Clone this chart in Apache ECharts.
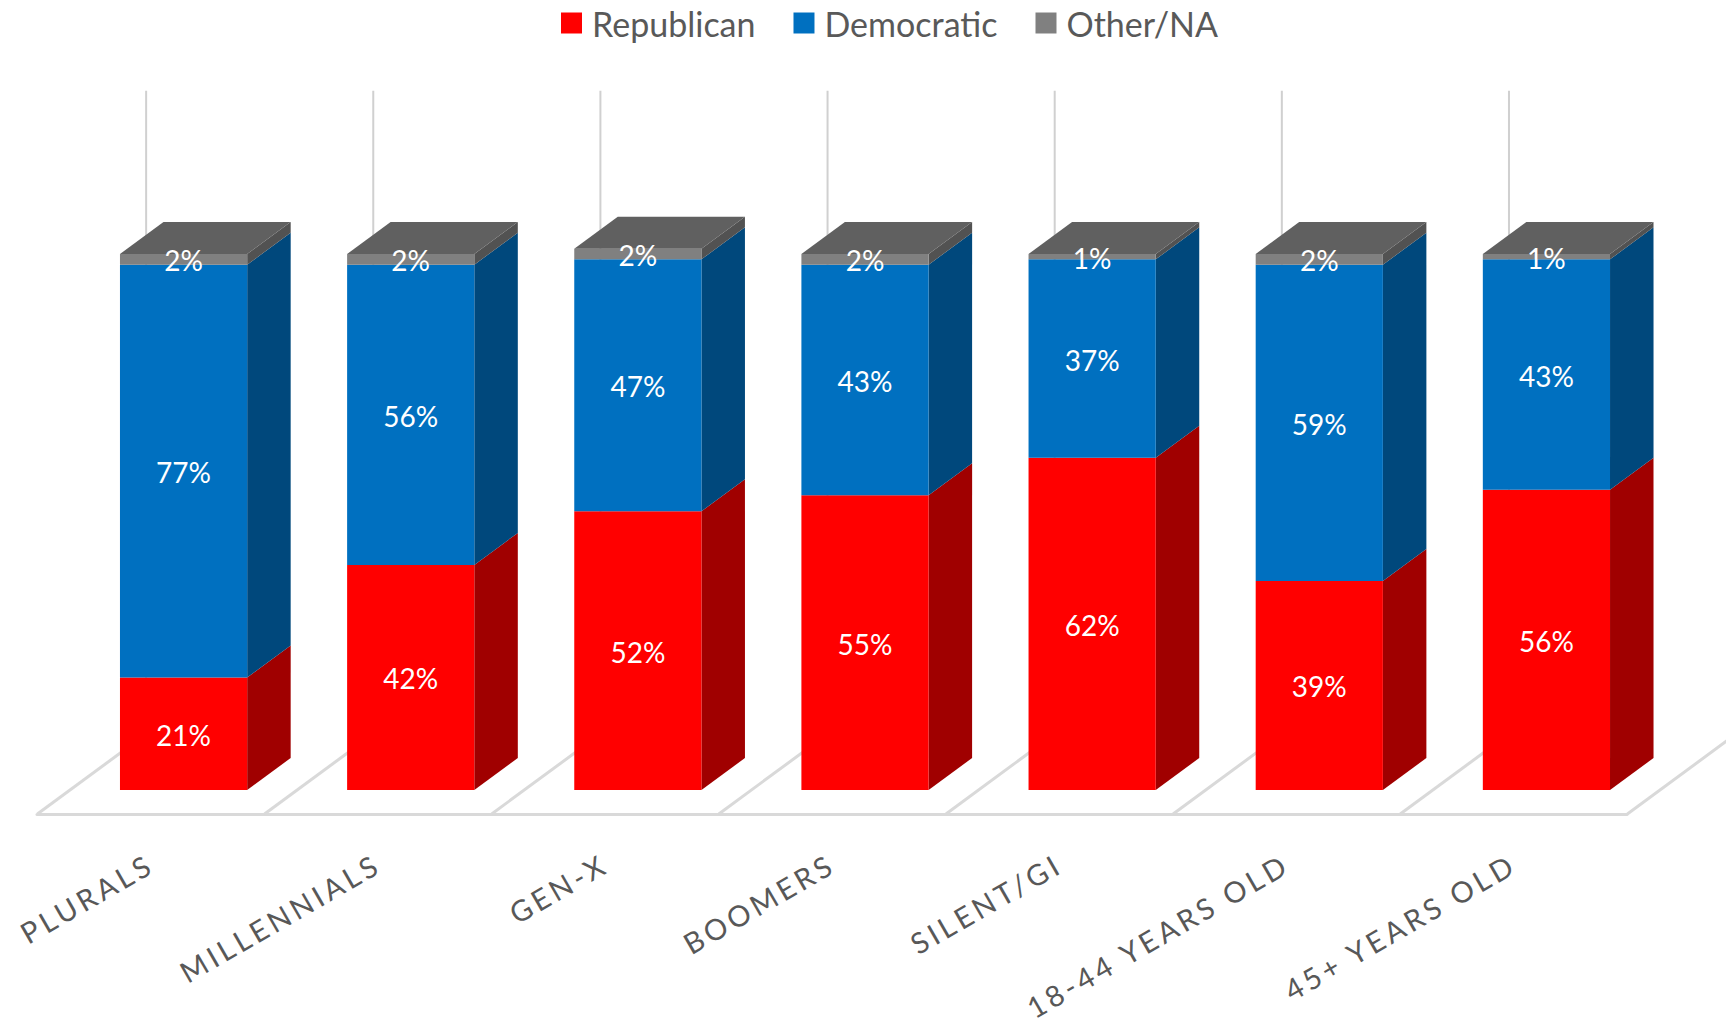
<!DOCTYPE html>
<html><head><meta charset="utf-8">
<script src="https://cdn.jsdelivr.net/npm/echarts/dist/echarts.min.js"></script>
<style>
html,body{margin:0;padding:0;background:#fff;}
#c{width:1726px;height:1025px;}
#c text[fill="#585858"]{letter-spacing:3.8px;}
</style></head><body><div id="c"></div>
<script>
// ---- data ----
const categories = ['PLURALS', 'MILLENNIALS', 'GEN-X', 'BOOMERS', 'SILENT/GI', '18-44 YEARS OLD', '45+ YEARS OLD'];
const republican = [21, 42, 52, 55, 62, 39, 56];
const democratic = [77, 56, 47, 43, 37, 59, 43];
const otherNA = [2, 2, 2, 2, 1, 2, 1];
const seriesNames = ['Republican', 'Democratic', 'Other/NA'];

// ---- styling ----
const FRONT = ['#FF0000', '#0070C0', '#808080'];
const SIDE = ['#A00000', '#00487C', '#525252'];
const TOP = '#606060';
const DX = 43.5, DY = -32;          // bar depth vector
const BAR_RATIO = 0.56;
const FLOOR_F = -0.75, FLOOR_B = 1.75; // floor front / back in bar-depth units
const WALL_MAX = 120;

const valuesBySeries = [republican, democratic, otherNA];
function stackData(s) {
  return categories.map((c, i) => {
    let base = 0;
    for (let k = 0; k < s; k++) base += valuesBySeries[k][i];
    const v = valuesBySeries[s][i];
    return [i, base, base + v, v];
  });
}

function makeRender(idx) {
  return function (params, api) {
    const i = api.value(0), base = api.value(1), top = api.value(2), v = api.value(3);
    const p0 = api.coord([i, base]);
    const p1 = api.coord([i, top]);
    const bw = api.size([1, 0])[0] * BAR_RATIO;
    const x0 = p0[0] - bw / 2, x1 = p0[0] + bw / 2;
    const yb = p0[1], yt = p1[1];
    const ch = [];
    ch.push({ type: 'polygon', shape: { points: [[x1, yb], [x1 + DX, yb + DY], [x1 + DX, yt + DY], [x1, yt]] }, style: { fill: SIDE[idx] } });
    ch.push({ type: 'rect', shape: { x: x0, y: yt, width: bw, height: yb - yt }, style: { fill: FRONT[idx] } });
    if (idx === 2) {
      ch.push({ type: 'polygon', shape: { points: [[x0, yt], [x0 + DX, yt + DY], [x1 + DX, yt + DY], [x1, yt]] }, style: { fill: TOP } });
    }
    ch.push({ type: 'text', x: p0[0], y: (yb + yt) / 2 + 1, style: { text: v + '%', fill: '#ffffff', fontSize: 28, fontFamily: 'Lato', align: 'center', verticalAlign: 'middle', textAlign: 'center', textVerticalAlign: 'middle' } });
    return { type: 'group', children: ch };
  };
}

function renderFloor(params, api) {
  const i = api.value(0);
  const bw = api.size([1, 0])[0];
  const c = api.coord([i, 0]);
  const yWallTop = api.coord([i, WALL_MAX])[1];
  const lefts = [c[0] - bw / 2];
  if (i === categories.length - 1) lefts.push(c[0] + bw / 2);
  const ch = [];
  lefts.forEach((lx, k) => {
    const fx = lx + DX * FLOOR_F, fy = c[1] + DY * FLOOR_F;
    const bx = lx + DX * FLOOR_B, by = c[1] + DY * FLOOR_B;
    if (k === 0) {
      ch.push({ type: 'line', shape: { x1: bx, y1: yWallTop + DY * FLOOR_B, x2: bx, y2: by }, style: { stroke: '#d0d0d0', lineWidth: 2 } });
    }
    ch.push({ type: 'line', shape: { x1: fx, y1: fy, x2: bx, y2: by }, style: { stroke: '#d9d9d9', lineWidth: 3 } });
  });
  return { type: 'group', children: ch };
}

const chart = echarts.init(document.getElementById('c'), null, { renderer: 'svg' });
chart.setOption({
  animation: false,
  backgroundColor: '#ffffff',
  legend: {
    data: seriesNames,
    left: 561, top: 6, padding: 0,
    itemWidth: 21, itemHeight: 21, itemGap: 38,
    icon: 'rect',
    textStyle: { fontFamily: 'Lato', fontSize: 34, lineHeight: 34, color: '#595959', padding: [0, 0, 0, 5] }
  },
  grid: [
    { left: 70, right: 66, top: 146.8, bottom: 235 },
    { left: 37, right: 99, top: 146.8, bottom: 211 }
  ],
  xAxis: [
    { type: 'category', data: categories, gridIndex: 0, show: false },
    {
      type: 'category', data: categories, gridIndex: 1,
      axisLine: { lineStyle: { color: '#d9d9d9', width: 3 } },
      axisTick: { show: false },
      axisLabel: { interval: 0, rotate: 30, margin: 47, color: '#585858', fontFamily: 'Lato', fontSize: 29 }
    }
  ],
  yAxis: [
    { type: 'value', min: 0, max: WALL_MAX, gridIndex: 0, show: false },
    { type: 'value', min: 0, max: WALL_MAX, gridIndex: 1, show: false }
  ],
  series: [
    { type: 'custom', name: 'floor', xAxisIndex: 0, yAxisIndex: 0, renderItem: renderFloor, data: categories.map((c, i) => [i, 0]), silent: true, z: 1 },
    { type: 'custom', name: seriesNames[0], xAxisIndex: 0, yAxisIndex: 0, renderItem: makeRender(0), data: stackData(0), itemStyle: { color: FRONT[0] }, z: 2 },
    { type: 'custom', name: seriesNames[1], xAxisIndex: 0, yAxisIndex: 0, renderItem: makeRender(1), data: stackData(1), itemStyle: { color: FRONT[1] }, z: 2 },
    { type: 'custom', name: seriesNames[2], xAxisIndex: 0, yAxisIndex: 0, renderItem: makeRender(2), data: stackData(2), itemStyle: { color: FRONT[2] }, z: 2 }
  ]
});
</script></body></html>
